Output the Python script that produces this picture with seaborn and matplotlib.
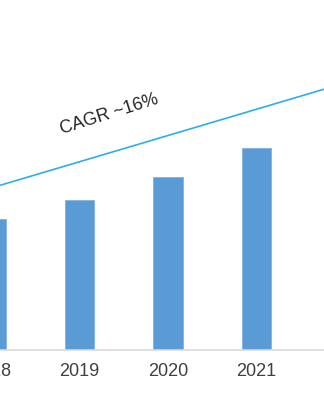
import matplotlib
matplotlib.use("Agg")
import matplotlib.pyplot as plt
import seaborn as sns
import pandas as pd

years = [2018, 2019, 2020, 2021]
values = [13.1, 15.0, 17.3, 20.2]
tick_labels = ["2018", "2019", "2020", "2021"]
trend_years = [2018, 2022]
trend_values = [16.2, 26.7]
cagr_label = "CAGR ~16%"

sns.set_theme(style="white")
plt.rcParams['font.family'] = ['Liberation Sans', 'DejaVu Sans']

fig = plt.figure(figsize=(3.24, 4.05), dpi=100)
# axes extends past the left edge of the figure so the cropped 2018 label is drawn
x_lo, x_hi = -0.5, 3.763
unit_px = 324 / (x_hi - 0.1017)
left_px = -(0.1017 - x_lo) * unit_px
ax = fig.add_axes([left_px / 324, 55 / 405, (324 - left_px) / 324, 350 / 405])

df = pd.DataFrame({"year": [str(y) for y in years], "value": values})
sns.barplot(data=df, x="year", y="value", order=tick_labels, width=0.335,
            color="#5B9BD5", saturation=1, edgecolor="#7FB2E3", linewidth=0.6, ax=ax)
trend_pos = [y - years[0] for y in trend_years]
sns.lineplot(x=trend_pos, y=trend_values, color="#2EAEE8", linewidth=1.2, ax=ax)

ax.text(1.333, 23.55, cagr_label, rotation=17.5, rotation_mode="anchor",
        ha="center", va="center", fontsize=12.8, color="#262626")

ax.set_ylim(0, 35)
ax.set_yticks([])
ax.set_xlabel("")
ax.set_ylabel("")
ax.tick_params(axis="x", length=0, pad=9, labelsize=13, labelcolor="#404040")
for s in ["top", "left", "right"]:
    ax.spines[s].set_visible(False)
ax.spines["bottom"].set_color("#D9D9D9")
ax.spines["bottom"].set_linewidth(1.2)
ax.set_xlim(x_lo, x_hi)

fig.savefig("out.png", dpi=100)
